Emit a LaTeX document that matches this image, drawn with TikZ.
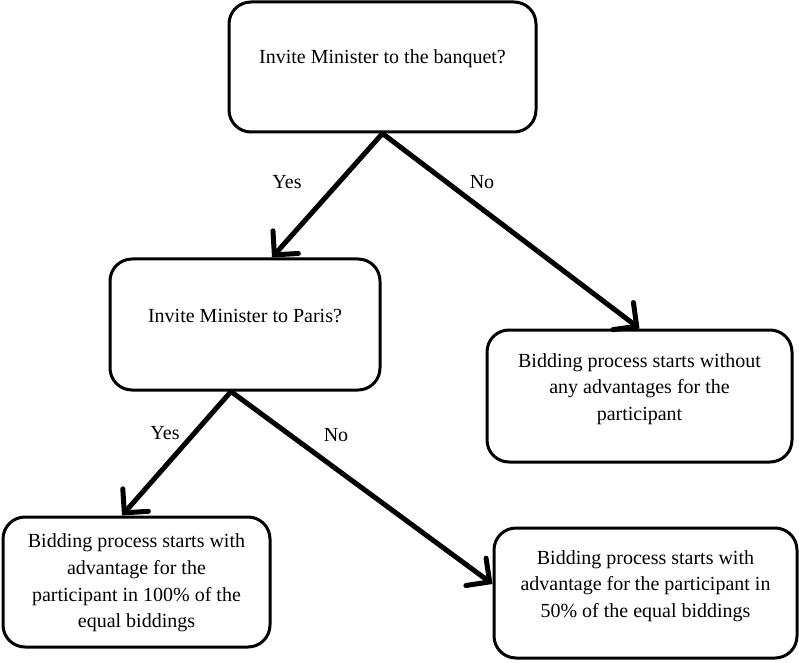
\documentclass[tikz,border=0pt]{standalone}
\usepackage{fontspec}
\setmainfont{Liberation Serif}
\usetikzlibrary{arrows.meta}
\tikzset{
  x=1pt, y=1pt,
  box/.style={draw=black, line width=3pt, rounded corners=22pt, fill=white, inner sep=0pt},
  txt/.style={align=center, font=\fontsize{20}{26.7}\selectfont, inner sep=0pt},
  lbl/.style={font=\fontsize{20}{24}\selectfont, inner sep=0pt},
  conn/.style={line width=5pt, -{Straight Barb[length=17pt,width=34pt,line width=5pt,line cap=round]}}
}
\begin{document}
\begin{tikzpicture}
\useasboundingbox (0,0) rectangle (799,662);
% boxes
\node[box, minimum width=307pt, minimum height=130pt] (b1) at (382.5,595) {};
\node[box, minimum width=270pt, minimum height=131pt] (b2) at (245,337.5) {};
\node[box, minimum width=305pt, minimum height=132pt] (b3) at (639.5,266) {};
\node[box, minimum width=267pt, minimum height=130pt] (b4) at (136.5,80) {};
\node[box, minimum width=303pt, minimum height=130pt] (b5) at (645.5,69) {};
% texts
\node[txt] (t1) at ([yshift=8pt]b1.center) {Invite Minister to the banquet?};
\node[txt] (t2) at ([yshift=8pt]b2.center) {Invite Minister to Paris?};
\node[txt] (t3) at ([yshift=7pt]b3.center) {Bidding process starts without\\any advantages for the\\participant};
\node[txt] (t4) at ([yshift=-1pt]b4.center) {Bidding process starts with\\advantage for the\\participant in 100\% of the\\equal biddings};
\node[txt] (t5) at ([yshift=7pt]b5.center) {Bidding process starts with\\advantage for the participant in\\50\% of the equal biddings};
% connectors
\draw[conn] (b1.south) -- ([xshift=27pt]b2.north);
\draw[conn] (b1.south) -- (b3.north);
\draw[conn] ([xshift=-14pt]b2.south) -- ([xshift=-14.5pt]b4.north);
\draw[conn] ([xshift=-14pt]b2.south) -- ([yshift=9pt]b5.west);
% labels
\node[lbl] (y1) at (287,480) {Yes};
\node[lbl] (n1) at (482,480) {No};
\node[lbl] (y2) at (165,229) {Yes};
\node[lbl] (n2) at (336,227) {No};
\end{tikzpicture}
\end{document}
